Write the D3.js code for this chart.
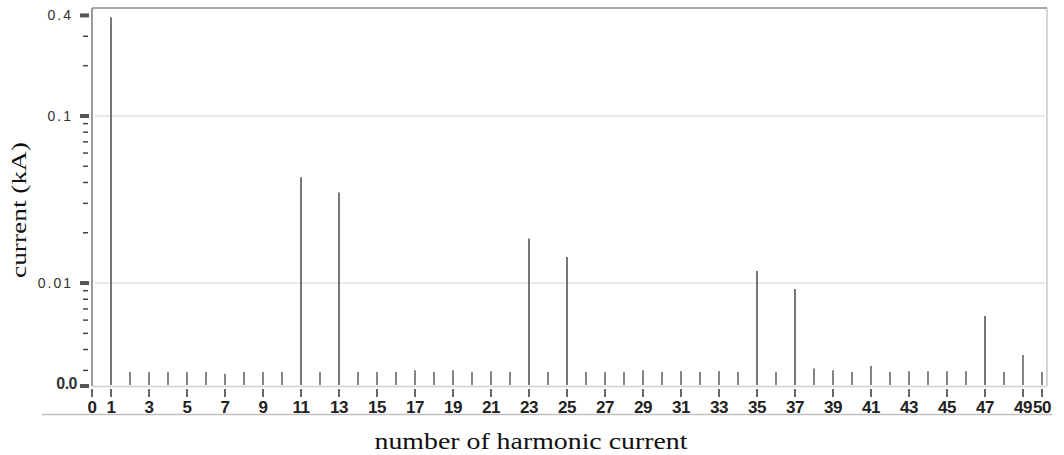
<!DOCTYPE html>
<html><head><meta charset="utf-8">
<script src="https://cdn.jsdelivr.net/npm/d3@7"></script>
<style>body{margin:0;background:#fff}svg{display:block}</style>
</head><body>
<svg id="c" width="1064" height="455"></svg>
<script>
const harmonics = d3.range(1, 51);
const currents = [
  0.39, 0.00293, 0.00293, 0.00293, 0.00293, 0.00293, 0.00287, 0.00293, 0.00293, 0.00293,
  0.0430, 0.00293, 0.0348, 0.00293, 0.00293, 0.00293, 0.00301, 0.00293, 0.00301, 0.00293,
  0.00297, 0.00293, 0.0185, 0.00293, 0.0143, 0.00293, 0.00293, 0.00293, 0.00301, 0.00293,
  0.00297, 0.00293, 0.00297, 0.00293, 0.0118, 0.00293, 0.0092, 0.00308, 0.00301, 0.00293,
  0.00319, 0.00293, 0.00297, 0.00297, 0.00297, 0.00297, 0.00634, 0.00293, 0.00371, 0.00293
];
const yDomain = [0.00242, 0.443];
const yMajorTicks = [0.4, 0.1, 0.01, 0.00242];
const yMajorLabels = ["0.4", "0.1", "0.01", "0.0"];
const yMinorTicks = [0.3, 0.2, 0.09, 0.08, 0.07, 0.06, 0.05, 0.04, 0.03, 0.02,
  0.009, 0.008, 0.007, 0.006, 0.005, 0.004, 0.003];
const yGridValues = [0.1, 0.01];
const xTicks = [0, 1].concat(d3.range(3, 50, 2)).concat([50]);
const xTitle = "number of harmonic current";
const yTitle = "current (kA)";

const svg = d3.select("#c");
const L = 92, R = 1047, T = 8, B = 386;
const x = d3.scaleLinear().domain([0, 50]).range([L, 1042]);
const y = d3.scaleLog().domain(yDomain).range([B, T]);

// gridlines
svg.append("g").selectAll("line").data(yGridValues).join("line")
  .attr("x1", L + 3).attr("x2", R - 2)
  .attr("y1", d => y(d)).attr("y2", d => y(d))
  .attr("stroke", "#e2e2e2").attr("stroke-width", 1.5);

// frame
svg.append("line").attr("x1", L).attr("x2", R).attr("y1", T).attr("y2", T)
  .attr("stroke", "#a8a8a8").attr("stroke-width", 2);
svg.append("line").attr("x1", R).attr("x2", R).attr("y1", T).attr("y2", B)
  .attr("stroke", "#c8c8c8").attr("stroke-width", 1.5);
svg.append("line").attr("x1", L).attr("x2", R).attr("y1", B + 0.5).attr("y2", B + 0.5)
  .attr("stroke", "#d0d0d0").attr("stroke-width", 1.5);
svg.append("line").attr("x1", L).attr("x2", L).attr("y1", T).attr("y2", B)
  .attr("stroke", "#9a9a9a").attr("stroke-width", 2);
svg.append("line").attr("x1", 42).attr("x2", 1052).attr("y1", 414.5).attr("y2", 414.5)
  .attr("stroke", "#c0c0c0").attr("stroke-width", 1.5);

// bars (stems)
svg.append("g").selectAll("line").data(harmonics).join("line")
  .attr("x1", d => x(d)).attr("x2", d => x(d))
  .attr("y1", B - 1).attr("y2", (d, i) => y(currents[i]))
  .attr("stroke", (d, i) => currents[i] > 0.005 ? "#555" : "#666")
  .attr("stroke-width", 1.6);

// y ticks
const yAxis = svg.append("g");
yAxis.selectAll("rect.maj").data(yMajorTicks).join("rect").attr("class", "maj")
  .attr("x", 80).attr("width", 9).attr("y", d => y(d) - 2).attr("height", 4)
  .attr("fill", "#555");
yAxis.selectAll("line.min").data(yMinorTicks).join("line").attr("class", "min")
  .attr("x1", 83).attr("x2", 88).attr("y1", d => y(d)).attr("y2", d => y(d))
  .attr("stroke", "#444").attr("stroke-width", 1.5);
yAxis.selectAll("text").data(yMajorTicks).join("text")
  .attr("x", (d, i) => i === 3 ? 77 : 73).attr("y", d => y(d)).attr("dy", (d, i) => i === 3 ? "0.2em" : "0.35em")
  .attr("text-anchor", "end")
  .attr("font-family", "Liberation Sans, Arial, sans-serif")
  .attr("font-size", (d, i) => i === 3 ? 16 : 14)
  .attr("font-weight", (d, i) => i === 3 ? "bold" : "normal")
  .attr("letter-spacing", (d, i) => i === 3 ? -0.5 : 2)
  .attr("fill", "#333")
  .text((d, i) => yMajorLabels[i]);

// x ticks
const xAxis = svg.append("g");
xAxis.selectAll("line").data(xTicks).join("line")
  .attr("x1", d => x(d)).attr("x2", d => x(d)).attr("y1", 389).attr("y2", 397)
  .attr("stroke", "#333").attr("stroke-width", 1.5);
xAxis.selectAll("text").data(xTicks).join("text")
  .attr("x", d => x(d)).attr("y", 413)
  .attr("text-anchor", "middle")
  .attr("font-family", "Liberation Sans, Arial, sans-serif")
  .attr("font-size", 17).attr("font-weight", "bold").attr("fill", "#222")
  .attr("letter-spacing", -0.5)
  .text(d => d);

// titles
svg.append("text").attr("x", 531).attr("y", 449).attr("text-anchor", "middle")
  .attr("font-family", "Liberation Serif, Times New Roman, serif").attr("font-size", 23)
  .attr("textLength", 313).attr("lengthAdjust", "spacingAndGlyphs")
  .attr("fill", "#111").text(xTitle);
svg.append("text").attr("transform", "translate(26,210) rotate(-90)")
  .attr("text-anchor", "middle")
  .attr("font-family", "Liberation Serif, Times New Roman, serif").attr("font-size", 21)
  .attr("textLength", 136).attr("lengthAdjust", "spacingAndGlyphs")
  .attr("fill", "#111").text(yTitle);
</script>
</body></html>
